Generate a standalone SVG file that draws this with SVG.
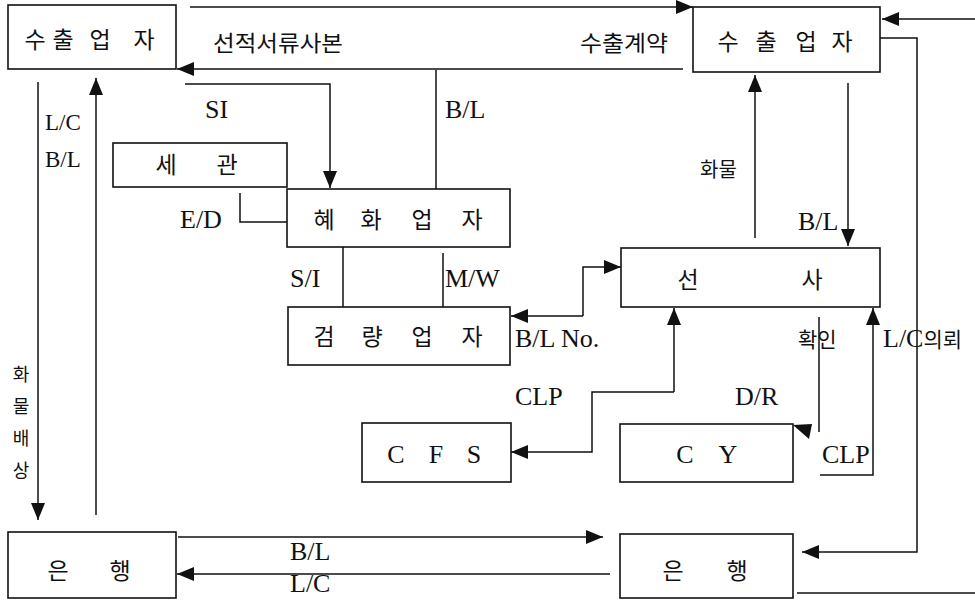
<svg xmlns="http://www.w3.org/2000/svg" width="975" height="600" viewBox="0 0 975 600">
<defs>
<marker id="ah" markerUnits="userSpaceOnUse" markerWidth="18" markerHeight="14" refX="17" refY="7" orient="auto"><path d="M0,0 L17,7 L0,14 z" fill="#111"/></marker>
<style>
.box{fill:#fff;stroke:#111;stroke-width:1.6}
.ln{fill:none;stroke:#111;stroke-width:1.5}
.ar{marker-end:url(#ah)}
.k{font-family:"Noto Sans CJK KR",sans-serif;font-size:23px;fill:#111;text-anchor:middle}
.kl{font-family:"Noto Sans CJK KR",sans-serif;font-size:21px;fill:#111}
.e{font-family:"Liberation Serif",serif;font-size:26px;fill:#111}
.ec{font-family:"Liberation Serif",serif;font-size:26px;fill:#111;text-anchor:middle}
</style>
</defs>
<rect width="975" height="600" fill="#fff"/>

<g id="connectors">
<path class="ln ar" d="M190,7 H693"/>
<path class="ln ar" d="M683,69 H177"/>
<path class="ln ar" d="M185,84 H330 V188"/>
<path class="ln" d="M436,70 V189"/>
<path class="ln ar" d="M38,82 V520"/>
<path class="ln ar" d="M96,515 V78"/>
<path class="ln" d="M240,193 V222 H287"/>
<path class="ln" d="M343,247 V307"/>
<path class="ln" d="M443,253 V307"/>
<path class="ln ar" d="M583,316 H511"/>
<path class="ln ar" d="M583,316 V267 H621"/>
<path class="ln ar" d="M674,392 V308"/>
<path class="ln ar" d="M674,392 H592 V452 H511"/>
<path class="ln" d="M819,317 V432"/>
<polygon points="793,425 812,424 809,439" fill="#111"/>
<path class="ln ar" d="M820,475 H873 V308"/>
<path class="ln ar" d="M880,38 H917 V552 H802"/>
<path class="ln ar" d="M975,19 H882"/>
<path class="ln" d="M797,593 H975"/>
<path class="ln ar" d="M755,238 V75"/>
<path class="ln ar" d="M848,83 V246"/>
<path class="ln ar" d="M178,537 H603"/>
<path class="ln ar" d="M610,574 H177"/>

<text class="kl" x="213" y="51" textLength="130" lengthAdjust="spacingAndGlyphs" style="font-size:22px">선적서류사본</text>
<text class="kl" x="580" y="51" textLength="88" lengthAdjust="spacingAndGlyphs" style="font-size:22px">수출계약</text>
<text class="e" x="205" y="118">SI</text>
<text class="e" x="445" y="118">B/L</text>
<text class="e" x="45" y="130" style="font-size:23px">L/C</text>
<text class="e" x="45" y="167" style="font-size:23px">B/L</text>
<text class="e" x="180" y="228">E/D</text>
<text class="e" x="290" y="287">S/I</text>
<text class="e" x="445" y="287">M/W</text>
<text class="e" x="515" y="347">B/L No.</text>
<text class="e" x="515" y="405">CLP</text>
<text class="kl" x="700" y="177" style="font-size:20px">화물</text>
<text class="e" x="798" y="230">B/L</text>
<text class="kl" x="798" y="347">확인</text>
<text x="883" y="347"><tspan class="e">L/C</tspan><tspan class="kl">의뢰</tspan></text>
<text class="e" x="735" y="405">D/R</text>
<text class="e" x="822" y="463">CLP</text>
<text class="k" x="21" y="381" style="font-size:18px">화</text>
<text class="k" x="21" y="413" style="font-size:18px">물</text>
<text class="k" x="21" y="445" style="font-size:18px">배</text>
<text class="k" x="21" y="477" style="font-size:18px">상</text>
<text class="e" x="290" y="560">B/L</text>
<text class="e" x="290" y="592">L/C</text>
</g>

<g id="exporter-left">
<rect class="box" x="8" y="5" width="168" height="64"/>
<text class="k" x="35 63 100 144" y="48">수출업자</text>
</g>
<g id="exporter-right">
<rect class="box" x="693" y="7" width="187" height="65"/>
<text class="k" x="728 766 806 842" y="50">수출업자</text>
</g>
<g id="customs">
<rect class="box" x="113" y="143" width="174" height="44"/>
<text class="k" x="166 227" y="173">세관</text>
</g>
<g id="forwarder">
<rect class="box" x="287" y="189" width="223" height="58"/>
<text class="k" x="324 371 422 472" y="228">혜화업자</text>
</g>
<g id="surveyor">
<rect class="box" x="288" y="307" width="222" height="58"/>
<text class="k" x="324 372 422 472" y="345">검량업자</text>
</g>
<g id="carrier">
<rect class="box" x="621" y="248" width="259" height="59"/>
<text class="k" x="688 812" y="288">선사</text>
</g>
<g id="cfs">
<rect class="box" x="362" y="423" width="149" height="59"/>
<text class="ec" x="396 436 474" y="463">CFS</text>
</g>
<g id="cy">
<rect class="box" x="620" y="424" width="173" height="58"/>
<text class="ec" x="685 728" y="463">CY</text>
</g>
<g id="bank-left">
<rect class="box" x="8" y="532" width="168" height="66"/>
<text class="k" x="58 120" y="579">은행</text>
</g>
<g id="bank-right">
<rect class="box" x="620" y="534" width="173" height="64"/>
<text class="k" x="673 737" y="579">은행</text>
</g>
</svg>
